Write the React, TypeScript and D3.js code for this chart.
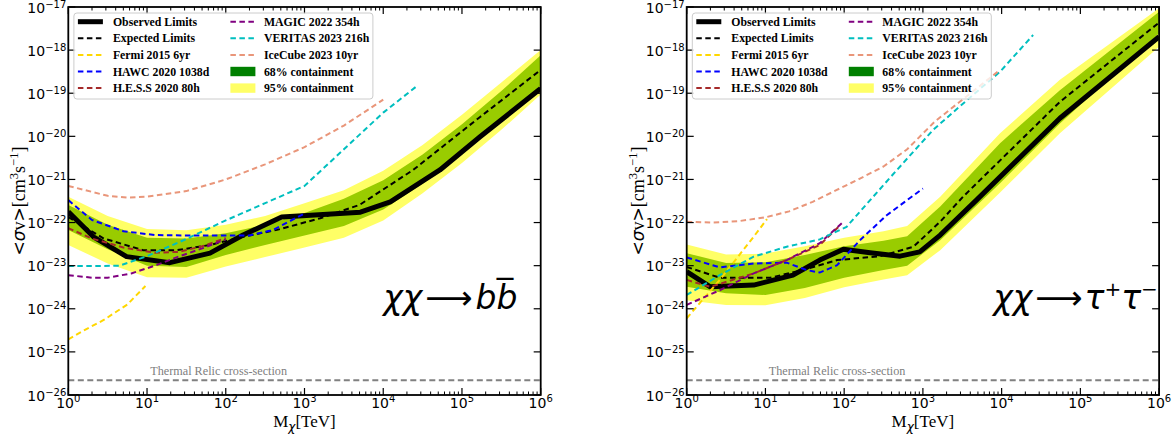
import * as d3 from "d3";
import React from "react";

// all values are [log10(M / TeV), log10(<σv> / cm^3 s^-1)]

// ---- χχ -> b bbar ----
const bbObserved = [[0, -21.75], [0.32, -22.33], [0.74, -22.79], [1.29, -22.93], [1.8, -22.71], [2.22, -22.29], [2.71, -21.87], [3.71, -21.76], [4.09, -21.52], [4.72, -20.78], [5.23, -20.01], [6, -18.89]];
const bbExpected = [[0, -21.87], [0.45, -22.37], [0.95, -22.64], [1.38, -22.64], [1.8, -22.52], [2.22, -22.33], [2.65, -22.17], [3.2, -21.9], [3.7, -21.59], [4.38, -20.78], [5.23, -19.55], [6, -18.46]];
const bb95Upper = [[0, -21.4], [0.5, -21.85], [1, -22.15], [1.5, -22.18], [2, -22.05], [2.5, -21.85], [3, -21.55], [3.5, -21.25], [4, -20.8], [4.5, -20.2], [5, -19.5], [5.5, -18.75], [6, -18.0]];
const bb68Upper = [[0, -21.59], [0.5, -22.05], [1, -22.35], [1.5, -22.37], [2, -22.25], [2.5, -22.05], [3, -21.78], [3.5, -21.45], [4, -21.02], [4.5, -20.42], [5, -19.72], [5.5, -18.95], [6, -18.12]];
const bb68Lower = [[0, -22.17], [0.5, -22.62], [1, -23.0], [1.5, -23.03], [2, -22.75], [2.5, -22.52], [3, -22.3], [3.5, -22.08], [4, -21.7], [4.5, -21.1], [5, -20.4], [5.5, -19.62], [6, -18.82]];
const bb95Lower = [[0, -22.52], [0.5, -22.95], [1, -23.27], [1.5, -23.28], [2, -23.02], [2.5, -22.8], [3, -22.58], [3.5, -22.35], [4, -21.95], [4.5, -21.32], [5, -20.62], [5.5, -19.85], [6, -19.03]];
const bbFermi = [[0, -24.71], [0.2, -24.5], [0.45, -24.26], [0.75, -23.9], [0.98, -23.47]];
const bbHawc = [[0, -21.48], [0.3, -21.94], [0.7, -22.2], [1.1, -22.29], [1.5, -22.3], [2, -22.3], [2.3, -22.3], [2.6, -22.17], [3, -21.79]];
const bbHess = [[0, -22.13], [0.3, -22.37], [0.7, -22.58], [1.1, -22.7], [1.4, -22.68], [1.7, -22.55], [2, -22.36]];
const bbMagic = [[0, -23.22], [0.3, -23.28], [0.5, -23.28], [0.8, -23.18], [1.1, -23.0], [1.4, -22.79], [1.7, -22.6], [2, -22.39]];
const bbVeritas = [[0, -23.01], [0.3, -23.01], [0.65, -23.0], [1, -22.78], [1.5, -22.38], [2, -21.95], [2.5, -21.55], [3, -21.15], [3.5, -20.3], [4, -19.45], [4.43, -18.83]];
const bbIceCube = [[0, -21.15], [0.5, -21.38], [0.75, -21.42], [1, -21.4], [1.5, -21.27], [2, -21.0], [2.5, -20.65], [3, -20.25], [3.5, -19.75], [4, -19.15]];

// ---- χχ -> τ+ τ- ----
const ttObserved = [[0, -23.14], [0.3, -23.49], [0.85, -23.45], [1.35, -23.22], [1.69, -22.87], [1.99, -22.62], [2.33, -22.7], [2.71, -22.78], [2.96, -22.68], [3.22, -22.29], [3.68, -21.48], [4.74, -19.58], [6, -17.69]];
const ttExpected = [[0, -23.03], [0.42, -23.28], [1.06, -23.28], [1.48, -23.1], [1.91, -22.87], [2.46, -22.78], [2.88, -22.56], [3.22, -21.98], [3.51, -21.4], [4.74, -19.2], [6, -17.36]];
const tt95Upper = [[0, -22.51], [0.5, -22.74], [1, -22.72], [1.5, -22.55], [2, -22.35], [2.5, -22.2], [2.8, -22.08], [3.22, -21.4], [3.98, -19.93], [4.74, -18.69], [6, -17.03]];
const tt68Upper = [[0, -22.71], [0.5, -22.94], [1, -22.92], [1.5, -22.75], [2, -22.55], [2.5, -22.42], [2.8, -22.32], [3.22, -21.63], [3.98, -20.16], [4.74, -18.93], [6, -17.11]];
const tt68Lower = [[0, -23.49], [0.5, -23.64], [1, -23.68], [1.5, -23.52], [2, -23.28], [2.5, -23.1], [2.8, -23.0], [3.22, -22.41], [3.98, -21.09], [4.74, -19.7], [6, -17.61]];
const tt95Lower = [[0, -23.8], [0.5, -23.91], [1, -23.92], [1.5, -23.75], [2, -23.5], [2.5, -23.32], [2.8, -23.22], [3.22, -22.64], [3.98, -21.3], [4.74, -19.93], [6, -17.92]];
const ttFermi = [[0, -24.22], [0.42, -23.33], [0.85, -22.33], [1.02, -21.92]];
const ttHawc = [[0, -22.81], [0.42, -23.04], [0.85, -22.95], [1.27, -22.93], [1.52, -23.1], [1.69, -23.16], [1.91, -22.99], [2.2, -22.41], [2.54, -21.83], [3, -21.21]];
const ttHess = [[0, -23.33], [0.3, -23.49], [0.85, -23.18], [1.27, -22.87], [1.69, -22.52], [1.95, -22.06]];
const ttMagic = [[0, -23.91], [0.42, -23.57], [0.85, -23.18], [1.27, -22.87], [1.69, -22.48], [1.99, -21.98]];
const ttVeritas = [[0, -23.68], [0.42, -23.22], [0.85, -22.79], [1.27, -22.56], [1.69, -22.39], [2.03, -22.1], [2.33, -21.48], [2.67, -20.78], [3.13, -19.85], [3.56, -19.16], [3.98, -18.5], [4.4, -17.65]];
const ttIceCube = [[0, -21.98], [0.3, -22.0], [0.65, -21.97], [1, -21.88], [1.3, -21.74], [1.6, -21.52], [1.9, -21.25], [2.2, -20.98], [2.5, -20.7], [2.8, -20.3], [3.15, -19.66], [3.55, -19.08], [3.98, -18.46]];

const thermalRelic = 2.2e-26;
const xDecades = [0, 1, 2, 3, 4, 5, 6];
const yDecades = [-26, -25, -24, -23, -22, -21, -20, -19, -18, -17];

const experimentNames = ["Fermi 2015 6yr", "HAWC 2020 1038d", "H.E.S.S 2020 80h", "MAGIC 2022 354h", "VERITAS 2023 216h", "IceCube 2023 10yr"];
const experimentColors = ["#FFD700", "#0000FF", "#A52A2A", "#800080", "#00BFBF", "#E9967A"];

const panels = [
  {
    id: "bb",
    x0: 68.3,
    observed: bbObserved, expected: bbExpected,
    up95: bb95Upper, up68: bb68Upper, lo68: bb68Lower, lo95: bb95Lower,
    experiments: [bbFermi, bbHawc, bbHess, bbMagic, bbVeritas, bbIceCube],
    labelAt: [1e4, 1e-24],
    final: "bb",
  },
  {
    id: "tt",
    x0: 686.7,
    observed: ttObserved, expected: ttExpected,
    up95: tt95Upper, up68: tt68Upper, lo68: tt68Lower, lo95: tt95Lower,
    experiments: [ttFermi, ttHawc, ttHess, ttMagic, ttVeritas, ttIceCube],
    labelAt: [7.8e3, 1e-24],
    final: "tt",
  },
];

const TOP = 7;
const BOTTOM = 395;
const PW = 472.4;
const MINUS = "\u2212";
const SANS = "DejaVu Sans";
const SERIF = "Liberation Serif, Times New Roman, serif";
const DASH = "5.5,3.5";

const Legend = ({ left }) => {
  const bx = left + 5.6;
  const by = 13;
  const rowY = (i) => by + 8.7 + i * 16.6;
  const col1 = ["Observed Limits", "Expected Limits", ...experimentNames.slice(0, 3)];
  const col2 = [...experimentNames.slice(3), "68% containment", "95% containment"];
  const txt = (x, y, s) => (
    <text x={x} y={y + 4} fontFamily={SERIF} fontWeight="bold" fontSize={11.8} fill="#000">{s}</text>
  );
  return (
    <g>
      <rect x={bx} y={by} width={299} height={86} rx={3} fill="#fff" fillOpacity={0.8} stroke="#cccccc" strokeWidth={1} />
      {col1.map((s, i) => (
        <g key={"a" + i}>
          {i === 0 ? (
            <line x1={bx + 4} x2={bx + 29} y1={rowY(i)} y2={rowY(i)} stroke="#000" strokeWidth={5} />
          ) : (
            <line x1={bx + 4} x2={bx + 29} y1={rowY(i)} y2={rowY(i)}
              stroke={i === 1 ? "#000" : experimentColors[i - 2]} strokeWidth={2} strokeDasharray={DASH} />
          )}
          {txt(bx + 39, rowY(i), s)}
        </g>
      ))}
      {col2.map((s, i) => (
        <g key={"b" + i}>
          {i < 3 ? (
            <line x1={bx + 156.5} x2={bx + 181.5} y1={rowY(i)} y2={rowY(i)} stroke={experimentColors[i + 3]} strokeWidth={2} strokeDasharray={DASH} />
          ) : (
            <rect x={bx + 156.5} y={rowY(i) - 4.7} width={25} height={9.4} fill={i === 3 ? "#008000" : "#FFFF66"} />
          )}
          {txt(bx + 190, rowY(i), s)}
        </g>
      ))}
    </g>
  );
};

const Panel = ({ p }) => {
  const x = d3.scaleLog().domain([1, 1e6]).range([p.x0, p.x0 + PW]);
  const y = d3.scaleLog().domain([1e-26, 1e-17]).range([BOTTOM, TOP]);
  const line = d3.line().x((d) => x(10 ** d[0])).y((d) => y(10 ** d[1]));
  const band = (up, lo) => line(up.concat([...lo].reverse())) + "Z";
  const xMinor = x.ticks().filter((t) => Math.abs(Math.log10(t) - Math.round(Math.log10(t))) > 1e-6);
  const x1 = p.x0 + PW;
  const cx = p.x0 + PW / 2;
  const cy = (TOP + BOTTOM) / 2;
  const [lx, ly] = p.labelAt;
  return (
    <g>
      <defs>
        <clipPath id={"clip-" + p.id}>
          <rect x={p.x0} y={TOP} width={PW} height={BOTTOM - TOP} />
        </clipPath>
      </defs>
      <g clipPath={`url(#clip-${p.id})`}>
        <path d={band(p.up95, p.lo95)} fill="#FFFF66" />
        <path d={band(p.up68, p.lo68)} fill="#99CC00" />
        <path d={line(p.observed)} fill="none" stroke="#000" strokeWidth={5} strokeLinejoin="round" />
        <path d={line(p.expected)} fill="none" stroke="#000" strokeWidth={2} strokeDasharray={DASH} />
        {p.experiments.map((s, i) => (
          <path key={i} d={line(s)} fill="none" stroke={experimentColors[i]} strokeWidth={2} strokeDasharray={DASH} />
        ))}
        <line x1={p.x0} x2={x1} y1={y(thermalRelic)} y2={y(thermalRelic)} stroke="#808080" strokeWidth={2} strokeDasharray="6,3.5" />
      </g>
      <text x={x(11)} y={y(2.9e-26)} fontFamily={SERIF} fontSize={12.2} fill="#808080">Thermal Relic cross-section</text>

      <text x={x(lx)} y={y(ly)} fontFamily={SANS} fontSize={33} fill="#000">
        <tspan fontStyle="italic">χχ</tspan>
        <tspan dx={3}>⟶</tspan>
        {p.final === "bb" ? (
          <tspan dx={3} fontStyle="italic">bb̅</tspan>
        ) : (
          <>
            <tspan dx={2} fontStyle="italic">τ</tspan>
            <tspan dy={-13} fontSize={20}>+</tspan>
            <tspan dy={13} fontStyle="italic">τ</tspan>
            <tspan dy={-13} fontSize={20}>{MINUS}</tspan>
          </>
        )}
      </text>

      {/* frame and ticks */}
      <rect x={p.x0} y={TOP} width={PW} height={BOTTOM - TOP} fill="none" stroke="#000" strokeWidth={1.8} />
      {xDecades.map((k) => (
        <g key={"xM" + k}>
          <line x1={x(10 ** k)} x2={x(10 ** k)} y1={BOTTOM} y2={BOTTOM - 7} stroke="#000" strokeWidth={1.2} />
          <line x1={x(10 ** k)} x2={x(10 ** k)} y1={TOP} y2={TOP + 7} stroke="#000" strokeWidth={1.2} />
          <text x={x(10 ** k)} y={BOTTOM + 13} textAnchor="middle" fontFamily={SANS} fontSize={14} fill="#000">
            10<tspan dy={-6} fontSize={10}>{k}</tspan>
          </text>
        </g>
      ))}
      {xMinor.map((t, i) => (
        <g key={"xm" + i}>
          <line x1={x(t)} x2={x(t)} y1={BOTTOM} y2={BOTTOM - 3.5} stroke="#000" strokeWidth={1} />
          <line x1={x(t)} x2={x(t)} y1={TOP} y2={TOP + 3.5} stroke="#000" strokeWidth={1} />
        </g>
      ))}
      {yDecades.map((k) => (
        <g key={"y" + k}>
          <line x1={p.x0} x2={p.x0 + 7} y1={y(10 ** k)} y2={y(10 ** k)} stroke="#000" strokeWidth={1.2} />
          <line x1={x1} x2={x1 - 7} y1={y(10 ** k)} y2={y(10 ** k)} stroke="#000" strokeWidth={1.2} />
          <text x={p.x0 - 2} y={y(10 ** k) + 5.5} textAnchor="end" fontFamily={SANS} fontSize={14} fill="#000">
            10<tspan dy={-4.8} fontSize={10}>{MINUS + Math.abs(k)}</tspan>
          </text>
        </g>
      ))}

      {/* axis labels */}
      <text x={cx} y={427} textAnchor="middle" fontFamily={SERIF} fontSize={17} fill="#000">
        M<tspan dy={4} fontSize={12} fontFamily={SANS} fontStyle="italic">χ</tspan>
        <tspan dy={-4}>[TeV]</tspan>
      </text>
      <text transform={`translate(${p.x0 - 43},${cy}) rotate(-90)`} textAnchor="middle" fontFamily={SERIF} fontSize={18} fill="#000">
        <tspan fontFamily={SANS} fontSize={17}>&lt;</tspan>
        <tspan fontFamily={SANS} fontStyle="italic" fontSize={17}>σ</tspan>
        <tspan>v</tspan>
        <tspan fontFamily={SANS} fontSize={17}>&gt;</tspan>
        <tspan>[cm</tspan>
        <tspan dy={-7} fontSize={12.5}>3</tspan>
        <tspan dy={7}>s</tspan>
        <tspan dy={-7} fontSize={12.5}>{MINUS}1</tspan>
        <tspan dy={7}>]</tspan>
      </text>

      <Legend left={p.x0} />
    </g>
  );
};

export default function App() {
  return (
    <div style={{ position: "fixed", left: 0, top: 0 }}>
      <svg width={1175} height={435} style={{ display: "block", background: "#fff" }}>
        {panels.map((p) => (
          <Panel key={p.id} p={p} />
        ))}
      </svg>
    </div>
  );
}
